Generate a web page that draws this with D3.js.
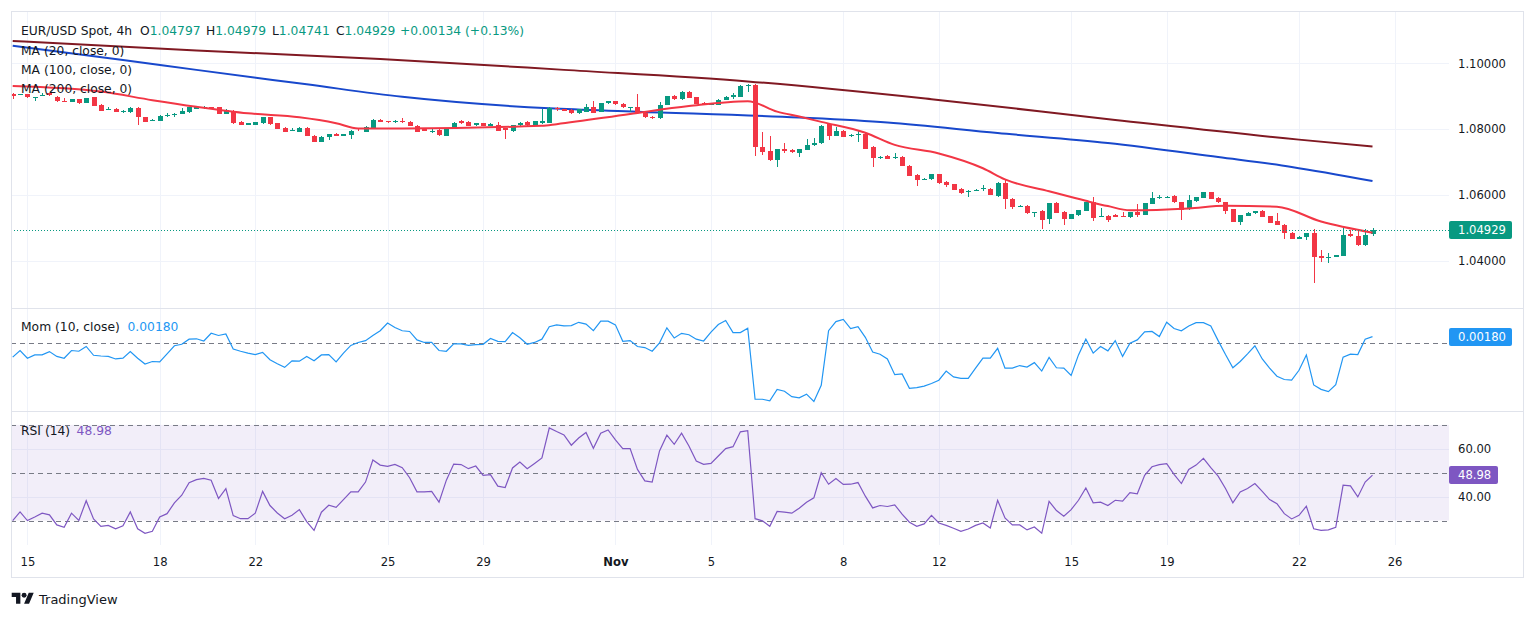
<!DOCTYPE html>
<html>
<head>
<meta charset="utf-8">
<script src="https://cdn.jsdelivr.net/npm/d3@7"></script>
<style>
  body { margin: 0; background: #ffffff; }
  svg text { font-family: "DejaVu Sans", "Noto Sans", sans-serif; }
</style>
</head>
<body>
<svg id="chart"></svg>
<script>
// ── Data (EUR/USD Spot, 4h bars) ─────────────────────────────────────────────
const tickIdx    = [2, 20, 33, 51, 64, 82, 95, 113, 126, 144, 157, 175, 188];
const tickLabels = ['15', '18', '22', '25', '29', 'Nov', '5', '8', '12', '15', '19', '22', '26'];

const priceTicks = [1.04, 1.06, 1.08, 1.10];
const rsiTicks   = [40, 60];

const opens = [
  1.0906, 1.0904, 1.0907, 1.0895, 1.0903, 1.0909, 1.0899, 1.0886, 1.0882, 1.0890,
  1.0880, 1.0897, 1.0873, 1.0858, 1.0862, 1.0852, 1.0851, 1.0863, 1.0836, 1.0826,
  1.0826, 1.0842, 1.0843, 1.0846, 1.0851, 1.0862, 1.0866, 1.0867, 1.0866, 1.0846,
  1.0856, 1.0822, 1.0813, 1.0813, 1.0818, 1.0836, 1.0818, 1.0803, 1.0795, 1.0792,
  1.0803, 1.0780, 1.0762, 1.0775, 1.0785, 1.0779, 1.0782, 1.0802, 1.0791, 1.0802,
  1.0828, 1.0825, 1.0822, 1.0824, 1.0823, 1.0809, 1.0799, 1.0793, 1.0797, 1.0779,
  1.0800, 1.0825, 1.0823, 1.0811, 1.0818, 1.0810, 1.0813, 1.0802, 1.0793, 1.0811,
  1.0822, 1.0811, 1.0818, 1.0820, 1.0864, 1.0860, 1.0858, 1.0848, 1.0853, 1.0868,
  1.0853, 1.0878, 1.0884, 1.0876, 1.0865, 1.0866, 1.0850, 1.0838, 1.0833, 1.0873,
  1.0901, 1.0890, 1.0914, 1.0897, 1.0880, 1.0874, 1.0874, 1.0888, 1.0899, 1.0899,
  1.0930, 1.0934, 1.0747, 1.0734, 1.0706, 1.0739, 1.0736, 1.0728, 1.0736, 1.0751,
  1.0757, 1.0814, 1.0779, 1.0795, 1.0779, 1.0783, 1.0785, 1.0746, 1.0713, 1.0718,
  1.0712, 1.0716, 1.0688, 1.0660, 1.0645, 1.0647, 1.0662, 1.0640, 1.0632, 1.0619,
  1.0610, 1.0615, 1.0617, 1.0619, 1.0596, 1.0637, 1.0589, 1.0564, 1.0566, 1.0546,
  1.0551, 1.0526, 1.0574, 1.0549, 1.0528, 1.0538, 1.0552, 1.0577, 1.0535, 1.0537,
  1.0539, 1.0536, 1.0532, 1.0547, 1.0539, 1.0572, 1.0590, 1.0593, 1.0597, 1.0577,
  1.0556, 1.0580, 1.0592, 1.0608, 1.0592, 1.0577, 1.0556, 1.0519, 1.0536, 1.0544,
  1.0552, 1.0535, 1.0521, 1.0510, 1.0484, 1.0467, 1.0473, 1.0484, 1.0415, 1.0410,
  1.0411, 1.0414, 1.0481, 1.0476, 1.0447, 1.04797
];
const highs = [
  1.0909, 1.0908, 1.0908, 1.0897, 1.0911, 1.0910, 1.0901, 1.0893, 1.0892, 1.0892,
  1.0896, 1.0899, 1.0875, 1.0868, 1.0864, 1.0858, 1.0866, 1.0866, 1.0838, 1.0832,
  1.0842, 1.0848, 1.0850, 1.0863, 1.0868, 1.0870, 1.0870, 1.0868, 1.0868, 1.0860,
  1.0858, 1.0824, 1.0820, 1.0823, 1.0838, 1.0838, 1.0820, 1.0805, 1.0803, 1.0805,
  1.0805, 1.0782, 1.0779, 1.0786, 1.0787, 1.0786, 1.0796, 1.0803, 1.0808, 1.0830,
  1.0830, 1.0826, 1.0828, 1.0833, 1.0825, 1.0811, 1.0801, 1.0799, 1.0799, 1.0804,
  1.0821, 1.0829, 1.0825, 1.0820, 1.0820, 1.0818, 1.0823, 1.0804, 1.0813, 1.0822,
  1.0824, 1.0826, 1.0860, 1.0868, 1.0868, 1.0862, 1.0860, 1.0862, 1.0876, 1.0884,
  1.0880, 1.0886, 1.0886, 1.0878, 1.0868, 1.0907, 1.0852, 1.0839, 1.0883, 1.0902,
  1.0903, 1.0915, 1.0916, 1.0899, 1.0882, 1.0879, 1.0890, 1.0900, 1.0910, 1.0934,
  1.0937, 1.0936, 1.0792, 1.0780, 1.0740, 1.0757, 1.0738, 1.0739, 1.0769, 1.0772,
  1.0812, 1.0817, 1.0807, 1.0797, 1.0784, 1.0797, 1.0788, 1.0748, 1.0717, 1.0720,
  1.0728, 1.0718, 1.0690, 1.0662, 1.0652, 1.0663, 1.0664, 1.0642, 1.0634, 1.0621,
  1.0615, 1.0619, 1.0630, 1.0621, 1.0639, 1.0647, 1.0591, 1.0568, 1.0568, 1.0549,
  1.0553, 1.0575, 1.0577, 1.0551, 1.0542, 1.0555, 1.0579, 1.0593, 1.0559, 1.0539,
  1.0541, 1.0549, 1.0548, 1.0572, 1.0576, 1.0608, 1.0600, 1.0597, 1.0599, 1.0579,
  1.0600, 1.0594, 1.0609, 1.0610, 1.0594, 1.0579, 1.0558, 1.0540, 1.0547, 1.0552,
  1.0554, 1.0537, 1.0544, 1.0512, 1.0486, 1.0474, 1.0485, 1.0496, 1.0433, 1.0423,
  1.0417, 1.0499, 1.0493, 1.0493, 1.0496, 1.04979
];
const lows = [
  1.0890, 1.0903, 1.0896, 1.0886, 1.0902, 1.0901, 1.0883, 1.0882, 1.0881, 1.0877,
  1.0879, 1.0869, 1.0855, 1.0857, 1.0851, 1.0850, 1.0850, 1.0812, 1.0822, 1.0825,
  1.0825, 1.0838, 1.0838, 1.0845, 1.0850, 1.0861, 1.0862, 1.0862, 1.0845, 1.0845,
  1.0816, 1.0811, 1.0812, 1.0812, 1.0817, 1.0813, 1.0800, 1.0791, 1.0794, 1.0791,
  1.0778, 1.0761, 1.0761, 1.0767, 1.0778, 1.0778, 1.0769, 1.0795, 1.0790, 1.0801,
  1.0821, 1.0819, 1.0818, 1.0820, 1.0808, 1.0791, 1.0793, 1.0789, 1.0780, 1.0778,
  1.0799, 1.0817, 1.0808, 1.0810, 1.0809, 1.0809, 1.0794, 1.0769, 1.0792, 1.0810,
  1.0810, 1.0810, 1.0817, 1.0818, 1.0856, 1.0855, 1.0847, 1.0847, 1.0852, 1.0849,
  1.0852, 1.0877, 1.0874, 1.0865, 1.0853, 1.0849, 1.0835, 1.0832, 1.0831, 1.0872,
  1.0889, 1.0889, 1.0893, 1.0876, 1.0873, 1.0873, 1.0873, 1.0887, 1.0892, 1.0898,
  1.0914, 1.0719, 1.0721, 1.0703, 1.0684, 1.0726, 1.0728, 1.0714, 1.0735, 1.0750,
  1.0756, 1.0767, 1.0778, 1.0776, 1.0777, 1.0762, 1.0740, 1.0686, 1.0710, 1.0709,
  1.0710, 1.0687, 1.0656, 1.0627, 1.0644, 1.0646, 1.0634, 1.0625, 1.0614, 1.0604,
  1.0594, 1.0611, 1.0613, 1.0599, 1.0594, 1.0556, 1.0556, 1.0562, 1.0543, 1.0534,
  1.0497, 1.0513, 1.0545, 1.0510, 1.0527, 1.0537, 1.0551, 1.0521, 1.0534, 1.0517,
  1.0533, 1.0532, 1.0531, 1.0534, 1.0538, 1.0571, 1.0589, 1.0590, 1.0576, 1.0524,
  1.0555, 1.0579, 1.0591, 1.0586, 1.0576, 1.0542, 1.0518, 1.0509, 1.0535, 1.0543,
  1.0533, 1.0515, 1.0508, 1.0465, 1.0465, 1.0466, 1.0463, 1.0331, 1.0397, 1.0392,
  1.0410, 1.0413, 1.0473, 1.0446, 1.0446, 1.04741
];
const closes = [
  1.0901, 1.0907, 1.0897, 1.0897, 1.0905, 1.0905, 1.0884, 1.0882, 1.0890, 1.0878,
  1.0895, 1.0870, 1.0856, 1.0860, 1.0852, 1.0856, 1.0864, 1.0836, 1.0823, 1.0828,
  1.0840, 1.0844, 1.0845, 1.0856, 1.0866, 1.0868, 1.0867, 1.0866, 1.0846, 1.0858,
  1.0818, 1.0812, 1.0818, 1.0822, 1.0836, 1.0814, 1.0801, 1.0792, 1.0797, 1.0803,
  1.0779, 1.0762, 1.0777, 1.0785, 1.0779, 1.0785, 1.0795, 1.0799, 1.0807, 1.0828,
  1.0822, 1.0822, 1.0824, 1.0822, 1.0809, 1.0792, 1.0794, 1.0795, 1.0781, 1.0803,
  1.0820, 1.0818, 1.0809, 1.0818, 1.0810, 1.0815, 1.0795, 1.0797, 1.0812, 1.0820,
  1.0811, 1.0824, 1.0824, 1.0865, 1.0862, 1.0856, 1.0848, 1.0860, 1.0868, 1.0850,
  1.0878, 1.0884, 1.0875, 1.0866, 1.0867, 1.0850, 1.0836, 1.0835, 1.0873, 1.0901,
  1.0890, 1.0914, 1.0894, 1.0876, 1.0874, 1.0878, 1.0888, 1.0899, 1.0905, 1.0931,
  1.0935, 1.0745, 1.0731, 1.0706, 1.0738, 1.0733, 1.0729, 1.0738, 1.0751, 1.0759,
  1.0810, 1.0779, 1.0795, 1.0777, 1.0782, 1.0786, 1.0741, 1.0711, 1.0716, 1.0710,
  1.0714, 1.0688, 1.0657, 1.0645, 1.0649, 1.0662, 1.0635, 1.0630, 1.0615, 1.0605,
  1.0611, 1.0616, 1.0620, 1.0600, 1.0637, 1.0586, 1.0564, 1.0566, 1.0544, 1.0548,
  1.0524, 1.0574, 1.0546, 1.0526, 1.0541, 1.0554, 1.0577, 1.0531, 1.0537, 1.0524,
  1.0534, 1.0534, 1.0547, 1.0540, 1.0575, 1.0590, 1.0595, 1.0595, 1.0577, 1.0554,
  1.0585, 1.0593, 1.0608, 1.0587, 1.0577, 1.0552, 1.0519, 1.0539, 1.0546, 1.0551,
  1.0534, 1.0516, 1.0509, 1.0483, 1.0466, 1.0473, 1.0484, 1.0412, 1.0407, 1.0412,
  1.0416, 1.0478, 1.0476, 1.0447, 1.0478, 1.04929
];

// moving averages, read at a set of bars along each line
const ma20Idx  = [0, 12, 19, 25, 32, 39, 44, 47, 53, 72, 74, 84, 92, 100, 104, 107, 110, 116, 120, 126, 132, 135, 141, 146, 149, 152, 160, 165, 172, 178, 185];
const ma20     = [1.0931, 1.0914, 1.0888, 1.0868, 1.0848, 1.0836, 1.0818, 1.0802, 1.0802, 1.0810, 1.0815, 1.0846, 1.0870, 1.0885, 1.0853, 1.0838, 1.0822, 1.0789, 1.0752, 1.0726, 1.0681, 1.0647, 1.0611, 1.0582, 1.0566, 1.0553, 1.0559, 1.0567, 1.0564, 1.0519, 1.0485];
const ma100Idx = [0, 15, 25, 40, 53, 73, 85, 107, 119, 134, 149, 164, 174, 185];
const ma100    = [1.1053, 1.1010, 1.0980, 1.0936, 1.0898, 1.0863, 1.0853, 1.0835, 1.0820, 1.0788, 1.0758, 1.0715, 1.0685, 1.0642];
const ma200Idx = [0, 25, 50, 75, 100, 125, 150, 175, 185];
const ma200    = [1.1068, 1.1039, 1.1013, 1.0980, 1.0945, 1.0891, 1.0828, 1.0768, 1.0747];

const mom = [
  -0.0038, -0.0020, -0.0041, -0.0032, -0.0032, -0.0023, -0.0036, -0.0041, -0.0020, -0.0022,
  -0.0009, -0.0033, -0.0035, -0.0036, -0.0043, -0.0041, -0.0023, -0.0041, -0.0057, -0.0050,
  -0.0051, -0.0029, -0.0007, -0.0003,  0.0011,  0.0012,  0.0006,  0.0027,  0.0021,  0.0025,
  -0.0016, -0.0022, -0.0027, -0.0031, -0.0025, -0.0045, -0.0056, -0.0066, -0.0048, -0.0049,
  -0.0036, -0.0048, -0.0032, -0.0031, -0.0051, -0.0027, -0.0006,  0.0002,  0.0007,  0.0021,
   0.0034,  0.0055,  0.0043,  0.0034,  0.0032,  0.0009,  0.0002,  0.0002, -0.0020, -0.0022,
  -0.0002, -0.0002, -0.0006, -0.0004, -0.0003,  0.0013,  0.0005,  0.0004,  0.0029,  0.0015,
  -0.0003,  0.0002,  0.0011,  0.0045,  0.0050,  0.0047,  0.0048,  0.0057,  0.0052,  0.0034,
   0.0060,  0.0060,  0.0050,  0.0005,  0.0007, -0.0009, -0.0012, -0.0022,  0.0001,  0.0042,
   0.0014,  0.0027,  0.0023,  0.0011,  0.0006,  0.0030,  0.0051,  0.0062,  0.0029,  0.0029,
   0.0041, -0.0153, -0.0153, -0.0157, -0.0126, -0.0131, -0.0146, -0.0149, -0.0139, -0.0159,
  -0.0115,  0.0034,  0.0059,  0.0065,  0.0040,  0.0045,  0.0016, -0.0024, -0.0030, -0.0043,
  -0.0086, -0.0084, -0.0123, -0.0121, -0.0117, -0.0110, -0.0101, -0.0076, -0.0092, -0.0096,
  -0.0096, -0.0068, -0.0041, -0.0041, -0.0014, -0.0068, -0.0068, -0.0061, -0.0065, -0.0053,
  -0.0076, -0.0039, -0.0067, -0.0068, -0.0088, -0.0032,  0.0011, -0.0027, -0.0009, -0.0021,
   0.0007, -0.0036,  0.0000,  0.0009,  0.0031,  0.0032,  0.0018,  0.0057,  0.0040,  0.0034,
   0.0047,  0.0056,  0.0056,  0.0047,  0.0007, -0.0031, -0.0067, -0.0050, -0.0029, -0.0007,
  -0.0043, -0.0068, -0.0090, -0.0099, -0.0101, -0.0074, -0.0032, -0.0114, -0.0126, -0.0132,
  -0.0113, -0.0038, -0.0030, -0.0031,  0.0011,  0.0018
];

const rsi = [
  30.0, 33.6, 30.0, 31.5, 33.1, 32.4, 28.2, 27.2, 33.1, 30.1,
  38.3, 30.7, 27.6, 28.0, 26.6, 27.8, 33.6, 26.6, 24.7, 25.5,
  31.5, 32.9, 37.4, 40.6, 45.8, 47.1, 47.6, 46.9, 39.2, 43.4,
  32.1, 30.8, 30.8, 33.1, 42.2, 36.3, 33.2, 30.8, 32.2, 34.6,
  29.6, 25.9, 33.5, 36.4, 35.5, 38.8, 42.0, 42.0, 46.1, 55.3,
  53.2, 52.7, 53.5, 52.1, 47.9, 42.0, 42.0, 42.2, 37.7, 46.9,
  53.6, 53.4, 51.7, 52.8, 48.9, 49.2, 44.4, 43.8, 52.0, 54.5,
  51.7, 53.9, 56.2, 68.7, 67.2, 65.8, 61.5, 64.5, 66.8, 60.2,
  66.5, 67.9, 63.7, 60.1, 60.1, 51.4, 46.6, 46.1, 59.1, 65.7,
  61.9, 66.5, 61.2, 54.9, 53.5, 53.9, 57.0, 60.1, 60.9, 67.1,
  67.6, 30.8, 29.9, 27.6, 33.8, 33.5, 33.1, 35.2, 37.7, 39.5,
  50.0, 45.2, 47.6, 45.1, 45.2, 45.9, 40.2, 35.3, 36.3, 35.9,
  36.6, 32.7, 29.3, 27.6, 28.6, 32.2, 29.0, 28.0, 26.8, 25.5,
  26.5, 28.0, 29.0, 26.9, 38.5, 31.1, 28.2, 28.2, 26.1, 27.3,
  24.7, 38.0, 34.2, 31.8, 34.6, 38.5, 43.6, 37.4, 37.7, 36.3,
  38.5, 38.1, 41.7, 41.2, 48.9, 52.5, 53.4, 53.8, 49.3, 45.5,
  51.4, 53.2, 56.0, 52.1, 48.6, 43.4, 37.4, 42.0, 43.4, 45.5,
  42.2, 38.8, 37.1, 32.9, 30.7, 32.2, 36.0, 26.6, 25.9, 26.1,
  27.2, 44.8, 44.5, 39.9, 46.1, 48.98
];

// ── Colours & layout ─────────────────────────────────────────────────────────
const UP = '#089981', DOWN = '#f23645';
const TEXT = '#131722', GRID = '#f0f3fa', BORDER = '#e0e3eb';
const MA_COLORS = { ma20: '#f23645', ma100: '#1848cc', ma200: '#801922' };

const W = 1536, H = 618;
const plotL = 11, plotR = 1449, frameR = 1523;
const pricePane = { top: 11, bottom: 308 };
const momPane   = { top: 308, bottom: 411 };
const rsiPane   = { top: 411, bottom: 545 };
const frameBottom = 577;
const LEGEND_PX = '12.3px', AXIS_PX = '11.6px';

const N = closes.length;

// ── Scales ───────────────────────────────────────────────────────────────────
const x = d3.scaleLinear().domain([0, N - 1]).range([12.7, 1372.5]);
const priceY = d3.scaleLinear().domain([1.02562, 1.11620]).range([308, 10]);
const momY   = d3.scaleLinear().domain([-0.0185, 0.0096]).range([momPane.bottom, momPane.top]);
const rsiY   = d3.scaleLinear().domain([19.8, 75.8]).range([rsiPane.bottom, rsiPane.top]);

// ── SVG ──────────────────────────────────────────────────────────────────────
const svg = d3.select('#chart').attr('width', W).attr('height', H);
svg.append('rect').attr('width', W).attr('height', H).attr('fill', '#ffffff');

const defs = svg.append('defs');
[['clip-price', pricePane], ['clip-mom', momPane], ['clip-rsi', rsiPane]].forEach(([id, p]) => {
  defs.append('clipPath').attr('id', id)
    .append('rect').attr('x', plotL).attr('y', p.top)
    .attr('width', plotR - plotL).attr('height', p.bottom - p.top);
});

// Vertical gridlines (all panes)
svg.append('g')
  .selectAll('line')
  .data(tickIdx)
  .join('line')
  .attr('x1', d => Math.round(x(d)) + 0.5).attr('x2', d => Math.round(x(d)) + 0.5)
  .attr('y1', pricePane.top).attr('y2', rsiPane.bottom)
  .attr('stroke', GRID);

// Horizontal gridlines
svg.append('g')
  .selectAll('line')
  .data(priceTicks)
  .join('line')
  .attr('x1', plotL).attr('x2', plotR)
  .attr('y1', d => Math.round(priceY(d)) + 0.5).attr('y2', d => Math.round(priceY(d)) + 0.5)
  .attr('stroke', GRID);

svg.append('g')
  .selectAll('line')
  .data(rsiTicks)
  .join('line')
  .attr('x1', plotL).attr('x2', plotR)
  .attr('y1', d => Math.round(rsiY(d)) + 0.5).attr('y2', d => Math.round(rsiY(d)) + 0.5)
  .attr('stroke', GRID);

// ── Price pane ───────────────────────────────────────────────────────────────
const priceG = svg.append('g').attr('clip-path', 'url(#clip-price)');

const maLine = d3.line()
  .x(d => x(d[0]))
  .y(d => priceY(d[1]))
  .curve(d3.curveMonotoneX);

[[ma200Idx, ma200, MA_COLORS.ma200], [ma100Idx, ma100, MA_COLORS.ma100]].forEach(([idx, vals, col]) => {
  priceG.append('path')
    .datum(idx.map((d, k) => [d, vals[k]]))
    .attr('fill', 'none')
    .attr('stroke', col)
    .attr('stroke-width', 2)
    .attr('d', maLine);
});

// Candles
const candles = priceG.append('g')
  .selectAll('g')
  .data(d3.range(N))
  .join('g')
  .attr('shape-rendering', 'crispEdges');

candles.append('line')
  .attr('x1', i => Math.round(x(i)) + 0.5).attr('x2', i => Math.round(x(i)) + 0.5)
  .attr('y1', i => priceY(highs[i])).attr('y2', i => priceY(lows[i]))
  .attr('stroke', i => closes[i] >= opens[i] ? UP : DOWN);

candles.append('rect')
  .attr('x', i => Math.round(x(i)) - 2)
  .attr('width', 5)
  .attr('y', i => priceY(Math.max(opens[i], closes[i])))
  .attr('height', i => Math.max(1, Math.abs(priceY(opens[i]) - priceY(closes[i]))))
  .attr('fill', i => closes[i] >= opens[i] ? UP : DOWN);

// MA 20 drawn over the candles
priceG.append('path')
  .datum(ma20Idx.map((d, k) => [d, ma20[k]]))
  .attr('fill', 'none')
  .attr('stroke', MA_COLORS.ma20)
  .attr('stroke-width', 2)
  .attr('d', maLine);

// Last price line
const lastClose = closes[N - 1];
svg.append('line')
  .attr('x1', plotL).attr('x2', plotR)
  .attr('y1', Math.round(priceY(lastClose)) + 0.5).attr('y2', Math.round(priceY(lastClose)) + 0.5)
  .attr('stroke', UP)
  .attr('stroke-dasharray', '1,2');

// ── Momentum pane ────────────────────────────────────────────────────────────
svg.append('line')
  .attr('x1', plotL).attr('x2', plotR)
  .attr('y1', Math.round(momY(0)) + 0.5).attr('y2', Math.round(momY(0)) + 0.5)
  .attr('stroke', '#787b86')
  .attr('stroke-dasharray', '5,4');

svg.append('path')
  .attr('clip-path', 'url(#clip-mom)')
  .datum(mom)
  .attr('fill', 'none')
  .attr('stroke', '#2196f3')
  .attr('stroke-width', 1.2)
  .attr('d', d3.line().x((d, i) => x(i)).y(d => momY(d)));

// ── RSI pane ─────────────────────────────────────────────────────────────────
svg.append('rect')
  .attr('x', plotL).attr('width', plotR - plotL)
  .attr('y', rsiY(70)).attr('height', rsiY(30) - rsiY(70))
  .attr('fill', '#7e57c2').attr('fill-opacity', 0.1);

svg.append('g')
  .selectAll('line')
  .data([70, 50, 30])
  .join('line')
  .attr('x1', plotL).attr('x2', plotR)
  .attr('y1', d => Math.round(rsiY(d)) + 0.5).attr('y2', d => Math.round(rsiY(d)) + 0.5)
  .attr('stroke', '#787b86')
  .attr('stroke-dasharray', '5,4');

svg.append('path')
  .attr('clip-path', 'url(#clip-rsi)')
  .datum(rsi)
  .attr('fill', 'none')
  .attr('stroke', '#7e57c2')
  .attr('stroke-width', 1.2)
  .attr('d', d3.line().x((d, i) => x(i)).y(d => rsiY(d)));

// ── Frame & pane separators ──────────────────────────────────────────────────
svg.append('rect')
  .attr('x', plotL + 0.5).attr('y', pricePane.top + 0.5)
  .attr('width', frameR - plotL).attr('height', frameBottom - pricePane.top)
  .attr('fill', 'none').attr('stroke', BORDER);

[momPane.top, rsiPane.top].forEach(yy => {
  svg.append('line')
    .attr('x1', plotL).attr('x2', frameR)
    .attr('y1', yy + 0.5).attr('y2', yy + 0.5)
    .attr('stroke', BORDER);
});

// ── Axes ─────────────────────────────────────────────────────────────────────
const styleAxis = ax => {
  ax.select('.domain').remove();
  ax.selectAll('line').remove();
  ax.selectAll('text').attr('fill', TEXT).style('font-size', AXIS_PX);
};

svg.append('g')
  .attr('transform', `translate(1458,0)`)
  .call(d3.axisRight(priceY).tickValues(priceTicks).tickFormat(d3.format('.5f')).tickSize(0).tickPadding(0))
  .call(styleAxis);

svg.append('g')
  .attr('transform', `translate(1458,0)`)
  .call(d3.axisRight(rsiY).tickValues(rsiTicks).tickFormat(d3.format('.2f')).tickSize(0).tickPadding(0))
  .call(styleAxis);

svg.append('g')
  .attr('transform', `translate(0,${rsiPane.bottom})`)
  .call(d3.axisBottom(x).tickValues(tickIdx).tickFormat((d, k) => tickLabels[k]).tickSize(0))
  .call(styleAxis)
  .call(ax => ax.selectAll('text')
    .attr('y', 17).attr('dy', '0.35em')
    .style('font-weight', d => tickLabels[tickIdx.indexOf(d)] === 'Nov' ? 700 : 400));

// Value badges on the right axis
function badge(yVal, label, color, w) {
  const yy = Math.round(yVal);
  svg.append('rect')
    .attr('x', plotR).attr('y', yy - 9)
    .attr('width', w).attr('height', 18).attr('rx', 2)
    .attr('fill', color);
  svg.append('text')
    .attr('x', plotR + 9).attr('y', yy)
    .attr('dy', '0.35em')
    .attr('fill', '#ffffff')
    .style('font-size', AXIS_PX)
    .text(label);
}
badge(priceY(lastClose), d3.format('.5f')(lastClose), UP, 63);
badge(momY(mom[N - 1]), d3.format('.5f')(mom[N - 1]), '#2196f3', 63);
badge(rsiY(rsi[N - 1]), d3.format('.2f')(rsi[N - 1]), '#7e57c2', 49);

// ── Legends ──────────────────────────────────────────────────────────────────
const fmt5 = d3.format('.5f');
const header = svg.append('g').style('font-size', LEGEND_PX);
header.append('text').attr('x', 21).attr('y', 35).attr('fill', TEXT).text('EUR/USD Spot, 4h');
[['O', opens[N - 1], 140], ['H', highs[N - 1], 206], ['L', lows[N - 1], 272], ['C', closes[N - 1], 336]]
  .forEach(([k, v, xx]) => {
    const t = header.append('text').attr('x', xx).attr('y', 35).attr('fill', TEXT).text(k);
    t.append('tspan').attr('fill', UP).text(fmt5(v));
  });
header.append('text').attr('x', 400).attr('y', 35).attr('fill', UP).text('+0.00134 (+0.13%)');

['MA (20, close, 0)', 'MA (100, close, 0)', 'MA (200, close, 0)'].forEach((s, k) => {
  header.append('text').attr('x', 21).attr('y', 54.5 + k * 19.3).attr('fill', TEXT).text(s);
});

svg.append('text').attr('x', 21).attr('y', 331).style('font-size', LEGEND_PX).attr('fill', TEXT)
  .text('Mom (10, close)');
svg.append('text').attr('x', 127.5).attr('y', 331).style('font-size', LEGEND_PX).attr('fill', '#2196f3')
  .text(fmt5(mom[N - 1]));

svg.append('text').attr('x', 21).attr('y', 435).style('font-size', LEGEND_PX).attr('fill', TEXT)
  .text('RSI (14)');
svg.append('text').attr('x', 76.6).attr('y', 435).style('font-size', LEGEND_PX).attr('fill', '#7e57c2')
  .text(d3.format('.2f')(rsi[N - 1]));

// ── TradingView mark ─────────────────────────────────────────────────────────
const logo = svg.append('g').attr('transform', 'translate(11.7,590.2) scale(0.62)').attr('fill', TEXT);
logo.append('path').attr('d', 'M14 22H7V11H0V4h14v18zM28 22h-8l7.5-18h8L28 22z');
logo.append('circle').attr('cx', 20).attr('cy', 8).attr('r', 4);
svg.append('text')
  .attr('x', 39).attr('y', 604)
  .attr('fill', TEXT)
  .style('font-size', '13px')
  .text('TradingView');
</script>
</body>
</html>
